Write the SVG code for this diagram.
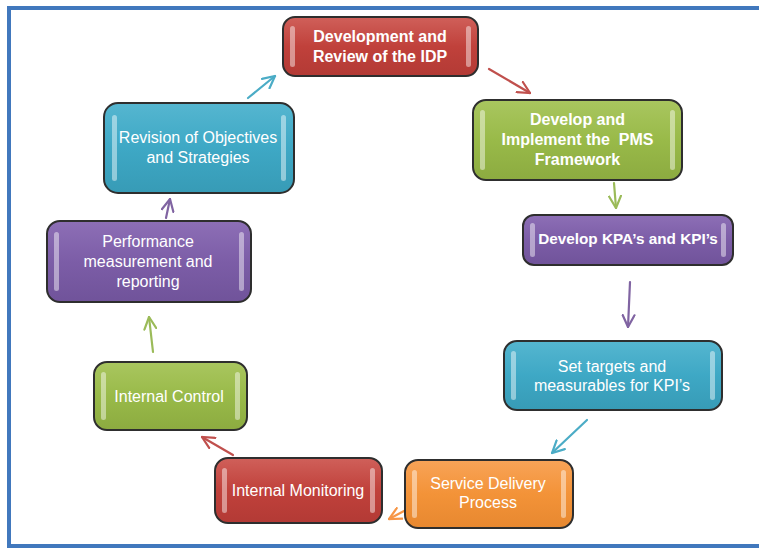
<svg xmlns="http://www.w3.org/2000/svg" width="759" height="548" viewBox="0 0 759 548">
<style>
.box{stroke:#2e2e2e;stroke-width:2}
.hl{fill:#ffffff;opacity:0.45}
.t{font-family:"Liberation Sans",Arial,sans-serif;font-size:16px;fill:#ffffff;text-anchor:middle}
.b{font-weight:bold}
.c{fill:none;stroke-width:2.2;stroke-linecap:round}
</style>
<defs>
<linearGradient id="gRed" x1="0" y1="0" x2="0" y2="1"><stop offset="0" stop-color="#d0605a"/><stop offset="0.5" stop-color="#c0413b"/><stop offset="1" stop-color="#b33a35"/></linearGradient>
<linearGradient id="gGreen" x1="0" y1="0" x2="0" y2="1"><stop offset="0" stop-color="#a9c65f"/><stop offset="0.5" stop-color="#99ba49"/><stop offset="1" stop-color="#8cab40"/></linearGradient>
<linearGradient id="gPurple" x1="0" y1="0" x2="0" y2="1"><stop offset="0" stop-color="#8d6fb6"/><stop offset="0.5" stop-color="#7c5da7"/><stop offset="1" stop-color="#70539a"/></linearGradient>
<linearGradient id="gBlue" x1="0" y1="0" x2="0" y2="1"><stop offset="0" stop-color="#55b6d0"/><stop offset="0.5" stop-color="#3ea8c5"/><stop offset="1" stop-color="#379bb6"/></linearGradient>
<linearGradient id="gOrange" x1="0" y1="0" x2="0" y2="1"><stop offset="0" stop-color="#f8a458"/><stop offset="0.5" stop-color="#f39338"/><stop offset="1" stop-color="#e78830"/></linearGradient>
<marker id="mCyan" viewBox="0 0 14 14" refX="13" refY="7" markerWidth="14" markerHeight="14" markerUnits="userSpaceOnUse" orient="auto"><path d="M1,1 L13,7 L1,13" fill="none" stroke="#4bacc6" stroke-width="2.2" stroke-linecap="round"/></marker>
<marker id="mRed" viewBox="0 0 14 14" refX="13" refY="7" markerWidth="14" markerHeight="14" markerUnits="userSpaceOnUse" orient="auto"><path d="M1,1 L13,7 L1,13" fill="none" stroke="#c0504d" stroke-width="2.2" stroke-linecap="round"/></marker>
<marker id="mGreen" viewBox="0 0 14 14" refX="13" refY="7" markerWidth="14" markerHeight="14" markerUnits="userSpaceOnUse" orient="auto"><path d="M1,1 L13,7 L1,13" fill="none" stroke="#9bbb59" stroke-width="2.2" stroke-linecap="round"/></marker>
<marker id="mPurple" viewBox="0 0 14 14" refX="13" refY="7" markerWidth="14" markerHeight="14" markerUnits="userSpaceOnUse" orient="auto"><path d="M1,1 L13,7 L1,13" fill="none" stroke="#8064a2" stroke-width="2.2" stroke-linecap="round"/></marker>
<marker id="mOrange" viewBox="0 0 14 14" refX="13" refY="7" markerWidth="14" markerHeight="14" markerUnits="userSpaceOnUse" orient="auto"><path d="M1,1 L13,7 L1,13" fill="none" stroke="#f79646" stroke-width="2.2" stroke-linecap="round"/></marker>
</defs>
<rect x="0" y="0" width="759" height="548" fill="#ffffff"/>
<g id="frame" fill="#4178bd">
<rect x="7" y="6" width="752" height="4"/>
<rect x="7" y="6" width="4" height="542"/>
<rect x="7" y="544" width="752" height="4"/>
</g>
<g id="connectors">
<path class="c" stroke="#4bacc6" d="M248,98 L275,76" marker-end="url(#mCyan)"/>
<path class="c" stroke="#c0504d" d="M489,69 L530,93" marker-end="url(#mRed)"/>
<path class="c" stroke="#9bbb59" d="M614,183 L616,208" marker-end="url(#mGreen)"/>
<path class="c" stroke="#8064a2" d="M630,282 L628,327" marker-end="url(#mPurple)"/>
<path class="c" stroke="#4bacc6" d="M587,420 L552,453" marker-end="url(#mCyan)"/>
<path class="c" stroke="#f79646" d="M404,511 L389,519" marker-end="url(#mOrange)"/>
<path class="c" stroke="#c0504d" d="M233,455 L202,437" marker-end="url(#mRed)"/>
<path class="c" stroke="#9bbb59" d="M153,352 L149,317" marker-end="url(#mGreen)"/>
<path class="c" stroke="#8064a2" d="M166,218 L170,199" marker-end="url(#mPurple)"/>
</g>
<g id="n1">
<rect class="box" x="283" y="17" width="195" height="59" rx="12" fill="url(#gRed)"/>
<rect class="hl" x="290" y="26" width="5" height="41" rx="2.5"/>
<rect class="hl" x="466" y="26" width="5" height="41" rx="2.5"/>
<text class="t b" x="380" y="42">Development and</text>
<text class="t b" x="380" y="62">Review of the IDP</text>
</g>
<g id="n2">
<rect class="box" x="473" y="100" width="209" height="80" rx="13" fill="url(#gGreen)"/>
<rect class="hl" x="480" y="110" width="5" height="60" rx="2.5"/>
<rect class="hl" x="670" y="110" width="5" height="60" rx="2.5"/>
<text class="t b" x="577.5" y="125">Develop and</text>
<text class="t b" x="577.5" y="145" style="white-space:pre">Implement the  PMS</text>
<text class="t b" x="577.5" y="165">Framework</text>
</g>
<g id="n3">
<rect class="box" x="523" y="215" width="210" height="50" rx="11" fill="url(#gPurple)"/>
<rect class="hl" x="530" y="223" width="5" height="34" rx="2.5"/>
<rect class="hl" x="721" y="223" width="5" height="34" rx="2.5"/>
<text class="t b" x="628" y="244" style="font-size:15.3px">Develop KPA’s and KPI’s</text>
</g>
<g id="n4">
<rect class="box" x="504" y="341" width="218" height="69" rx="13" fill="url(#gBlue)"/>
<rect class="hl" x="511" y="351" width="5" height="49" rx="2.5"/>
<rect class="hl" x="710" y="351" width="5" height="49" rx="2.5"/>
<text class="t" x="612" y="372">Set targets and</text>
<text class="t" x="612" y="391">measurables for KPI’s</text>
</g>
<g id="n5">
<rect class="box" x="405" y="460" width="168" height="68" rx="13" fill="url(#gOrange)"/>
<rect class="hl" x="412" y="470" width="5" height="48" rx="2.5"/>
<rect class="hl" x="561" y="470" width="5" height="48" rx="2.5"/>
<text class="t" x="488" y="489">Service Delivery</text>
<text class="t" x="488" y="508">Process</text>
</g>
<g id="n6">
<rect class="box" x="215" y="458" width="167" height="65" rx="13" fill="url(#gRed)"/>
<rect class="hl" x="222" y="468" width="5" height="45" rx="2.5"/>
<rect class="hl" x="370" y="468" width="5" height="45" rx="2.5"/>
<text class="t" x="298" y="496">Internal Monitoring</text>
</g>
<g id="n7">
<rect class="box" x="94" y="362" width="153" height="68" rx="13" fill="url(#gGreen)"/>
<rect class="hl" x="101" y="372" width="5" height="48" rx="2.5"/>
<rect class="hl" x="235" y="372" width="5" height="48" rx="2.5"/>
<text class="t" x="169" y="402">Internal Control</text>
</g>
<g id="n8">
<rect class="box" x="47" y="221" width="204" height="81" rx="13" fill="url(#gPurple)"/>
<rect class="hl" x="54" y="232" width="5" height="59" rx="2.5"/>
<rect class="hl" x="239" y="232" width="5" height="59" rx="2.5"/>
<text class="t" x="148" y="247">Performance</text>
<text class="t" x="148" y="267">measurement and</text>
<text class="t" x="148" y="287">reporting</text>
</g>
<g id="n9">
<rect class="box" x="104" y="103" width="190" height="90" rx="14" fill="url(#gBlue)"/>
<rect class="hl" x="112" y="115" width="5" height="66" rx="2.5"/>
<rect class="hl" x="281" y="115" width="5" height="66" rx="2.5"/>
<text class="t" x="198" y="143">Revision of Objectives</text>
<text class="t" x="198" y="163">and Strategies</text>
</g>
</svg>
